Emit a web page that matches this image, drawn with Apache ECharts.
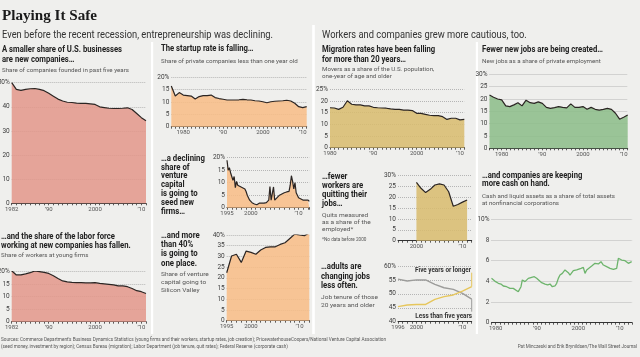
<!DOCTYPE html>
<html><head><meta charset="utf-8">
<script src="https://cdn.jsdelivr.net/npm/echarts@6/dist/echarts.min.js"></script>
<style>html,body{margin:0;padding:0;background:#efefed;}#c{width:640px;height:357px;}</style>
</head><body><div id="c"></div>
<script>
// ---------- DATA ----------
const foundedYearsStart = 1982;
const shareFoundedFiveYr = [50, 47.2, 46.8, 47.2, 47.5, 47.6, 47.2, 46.7, 45.6, 44.4, 43.2, 42.4, 41.9, 41.8, 41.5, 41.4, 41.4, 41.2, 41.0, 40.0, 39.7, 39.4, 39.3, 39.3, 39.4, 39.6, 38.9, 37.2, 35.5, 34.2];
const shareWorkersYoung = [20.4, 18.7, 18.7, 19.1, 19.6, 20.3, 20.0, 19.7, 19.3, 18.4, 17.3, 16.3, 15.9, 15.7, 15.6, 15.6, 15.5, 15.5, 15.6, 15.3, 15.1, 14.9, 14.7, 14.3, 14.3, 14.0, 13.3, 12.4, 12.0, 11.3];
const startupStart = 1977;
const startupRate = [16.5, 12.4, 13.8, 12.8, 12.6, 12.4, 11.2, 12.2, 12.6, 12.6, 12.8, 11.8, 11.4, 11.1, 10.8, 10.8, 10.8, 10.9, 11.1, 10.9, 10.8, 10.5, 10.4, 10.1, 9.7, 10.1, 10.3, 10.4, 10.5, 10.7, 10.4, 9.5, 8.1, 7.7, 8.1];
const seedStart = 1995; // quarterly
const seedShare = [19, 15, 16, 14, 13.5, 11, 12.5, 8, 10.5, 9, 9.5, 8.5, 9, 8, 8.5, 7.5, 6.5, 5, 4, 3, 2.5, 2, 1.8, 1.5, 1.5, 1.2, 1.5, 1.8, 1.5, 1.8, 2, 1.8, 2, 2, 2.5, 3, 8.5, 3, 3.5, 8.3, 3, 3.5, 4, 4.5, 5, 5, 5.5, 6, 6, 6.5, 6.3, 7, 6.5, 9, 12.8, 10.5, 7.5, 10, 6, 5, 4, 4.5, 3.5, 3.5, 3, 3.5, 3, 2.8, 3, 2.5];
const siliconStart = 1995;
const siliconValleyShare = [22.4, 30.2, 31.0, 27.2, 32.5, 31.9, 31.0, 33.0, 34.2, 34.5, 34.5, 35.6, 36.4, 38.4, 40.4, 40.0, 39.7, 41.0];
const migrationStart = 1980;
const migrationRate = [17.1, 17.0, 16.4, 17.3, 20.1, 18.6, 18.3, 18.3, 17.9, 17.9, 17.3, 17.1, 17.0, 16.9, 16.6, 16.4, 16.4, 16.1, 16.1, 15.9, 14.7, 14.7, 14.3, 13.9, 13.7, 13.7, 13.3, 12.1, 12.6, 12.6, 11.9, 12.1];
const quitStart = 2000;
const quitRate = [26.9, 24.2, 22.2, 23.7, 25.7, 26.2, 25.7, 22.6, 15.9, 16.7, 17.8, 18.8];
const tenureStart = 1996; // every two years
const tenureUnder5 = [55.3, 54.6, 55.0, 55.0, 53.4, 52.2, 51.6, 50.2, 48.1];
const tenureOver5 = [45.4, 46.0, 46.2, 46.2, 48.0, 49.0, 49.6, 51.0, 52.6];
const jobsStart = 1977;
const newJobs = [21.6, 20.7, 20.0, 19.6, 17.2, 16.9, 17.6, 18.5, 17.2, 19.5, 18.5, 18.2, 18.8, 18.2, 16.6, 16.2, 16.5, 16.9, 16.6, 16.4, 18.0, 16.6, 16.6, 16.9, 15.8, 16.6, 15.8, 15.5, 15.8, 16.2, 15.8, 14.2, 11.8, 12.6, 13.5];
const cashYears = [1979.0, 1979.44, 1980.0, 1980.65, 1981.29, 1981.85, 1982.66, 1983.47, 1984.27, 1984.68, 1985.48, 1985.89, 1986.13, 1986.45, 1986.69, 1987.1, 1987.5, 1987.9, 1988.31, 1988.71, 1989.35, 1989.92, 1990.32, 1991.13, 1991.94, 1992.58, 1993.15, 1993.71, 1994.35, 1994.76, 1995.16, 1995.56, 1996.13, 1996.77, 1997.18, 1997.58, 1997.98, 1998.39, 1998.79, 1999.19, 1999.6, 2000.0, 2000.65, 2001.21, 2001.61, 2002.02, 2002.42, 2003.23, 2004.03, 2004.84, 2005.48, 2006.05, 2006.85, 2007.66, 2008.47, 2009.27, 2009.68, 2010.08, 2010.48, 2010.89, 2011.29, 2011.69, 2012.1, 2012.5, 2012.9];
const cashShare = [4.29, 4.13, 3.97, 3.81, 3.74, 3.55, 3.48, 3.32, 3.32, 3.16, 3.0, 3.16, 3.48, 4.13, 4.29, 3.97, 4.13, 4.29, 4.19, 4.39, 4.45, 4.29, 4.13, 3.87, 3.74, 3.65, 3.74, 3.48, 3.55, 3.81, 4.29, 4.61, 4.77, 5.10, 4.94, 4.84, 4.61, 4.77, 5.03, 5.16, 5.10, 5.03, 5.26, 5.35, 4.77, 5.10, 5.26, 5.48, 5.74, 5.68, 5.90, 5.58, 5.42, 5.26, 5.16, 5.26, 6.23, 6.32, 6.06, 6.13, 6.0, 5.90, 5.74, 5.81, 5.90];

// tick labels
const tickYearsA = [1982, 1990, 2000, 2010], tickTextA = ['1982', '’90', '2000', '’10'];
const tickYearsB = [1980, 1990, 2000, 2010], tickTextB = ['1980', '’90', '2000', '’10'];
const tickYearsC = [1995, 2000, 2010], tickTextC = ['1995', '2000', '’10'];
const tickYearsE = [2000, 2010], tickTextE = ['2000', '’10'];
const tickYearsF = [1996, 2000, 2010], tickTextF = ['1996', '2000', '’10'];

// ---------- BUILD ----------
function pairs(start, step, vals) { return vals.map((v, i) => [start + i * step, v]); }
const LINE = '#2b2523';
const charts = [
  { box: [11.7, 82.7, 134.3, 120.6], x: [1982, 2011], y: [0, 50, 10], t: [tickYearsA, tickTextA], s: [{ d: pairs(foundedYearsStart, 1, shareFoundedFiveYr), fill: '#e3978a' }] },
  { box: [11.7, 271.7, 134.3, 50], x: [1982, 2011], y: [0, 20, 5], t: [tickYearsA, tickTextA], s: [{ d: pairs(foundedYearsStart, 1, shareWorkersYoung), fill: '#e3978a' }] },
  { box: [171.3, 77.3, 135.4, 49.4], x: [1977, 2011], y: [0, 20, 5], t: [tickYearsB, tickTextB], s: [{ d: pairs(startupStart, 1, startupRate), fill: '#f8bd86' }] },
  { box: [227, 157.7, 82.3, 50], x: [1995, 2012.25], y: [0, 20, 5], t: [tickYearsC, tickTextC], s: [{ d: pairs(seedStart, 0.25, seedShare), fill: '#f8bd86' }] },
  { box: [226.7, 235, 82.6, 85.7], x: [1995, 2012], y: [0, 40, 5], t: [tickYearsC, tickTextC], s: [{ d: pairs(siliconStart, 1, siliconValleyShare), fill: '#f8bd86' }] },
  { box: [330, 89.3, 134.3, 58.4], x: [1980, 2011], y: [0, 25, 5], t: [tickYearsB, tickTextB], s: [{ d: pairs(migrationStart, 1, migrationRate), fill: '#d8bb6e' }] },
  { box: [398, 175.7, 73.7, 65], x: [1996, 2012], y: [0, 30, 5], t: [tickYearsE, tickTextE], s: [{ d: pairs(quitStart, 1, quitRate), fill: '#d8bb6e' }] },
  { box: [398, 266, 73.7, 55.7], x: [1996, 2012], y: [40, 60, 5], t: [tickYearsF, tickTextF], s: [
      { d: pairs(tenureStart, 2, tenureUnder5), color: '#9c9c9a', w: 1.4 },
      { d: pairs(tenureStart, 2, tenureOver5), color: '#e6c65c', w: 1.4 },
      { d: [[2012, tenureOver5[tenureOver5.length - 1]], [2012, 57.6]], color: '#e6c65c', w: 1 },
      { d: [[2012, tenureUnder5[tenureUnder5.length - 1]], [2012, 43.6]], color: '#9c9c9a', w: 1 }
    ] },
  { box: [489.5, 74.3, 138.2, 74], x: [1977, 2011], y: [0, 30, 5], t: [tickYearsB, tickTextB], s: [{ d: pairs(jobsStart, 1, newJobs), fill: '#8cbd88' }] },
  { box: [491.5, 219.3, 140.6, 103.4], x: [1979, 2013], y: [0, 10, 2], t: [tickYearsB, tickTextB], s: [{ d: cashYears.map((y, i) => [y, cashShare[i]]), color: '#6db46c', w: 1.3 }] }
];

const grid = [], xAxis = [], yAxis = [], series = [];
charts.forEach((c, i) => {
  grid.push({ left: c.box[0], top: c.box[1], width: c.box[2], height: c.box[3], outerBoundsMode: 'none', containLabel: false });
  const ty = c.t[0], tt = c.t[1];
  xAxis.push({
    type: 'value', gridIndex: i, min: c.x[0], max: c.x[1], interval: 1,
    axisLine: { show: true, lineStyle: { color: '#333', width: 1 } },
    axisTick: { show: true, length: 2, lineStyle: { color: '#333', width: 0.8 } },
    splitLine: { show: false },
    axisLabel: { fontSize: 6, color: '#555', margin: 3, fontFamily: 'Roboto', hideOverlap: false,
      formatter: v => { const k = ty.indexOf(Math.round(v * 100) / 100); return k >= 0 ? tt[k] : ''; } }
  });
  yAxis.push({
    type: 'value', gridIndex: i, min: c.y[0], max: c.y[1], interval: c.y[2],
    axisLine: { show: false }, axisTick: { show: false },
    splitLine: { show: true, lineStyle: { color: '#9d9d9d', width: 0.7, type: [1, 1] } },
    axisLabel: { show: false }
  });
  c.s.forEach(s => {
    series.push({
      type: 'line', xAxisIndex: i, yAxisIndex: i, data: s.d, symbol: 'none', silent: true,
      lineStyle: { color: s.color || LINE, width: s.w || 1.2 },
      areaStyle: s.fill ? { color: s.fill, opacity: 0.86 } : undefined,
      z: 2
    });
  });
});

// ---------- TEXT ----------
const mctx = document.createElement('canvas').getContext('2d');
function measure(t, f) { mctx.font = f; return mctx.measureText(t).width; }
const SRC1 = 'Sources: Commerce Department\'s Business Dynamics Statistics (young firms and their workers, startup rates, job creation); PricewaterhouseCoopers/National Venture Capital Association';
const SRC2 = '(seed money, investment by region); Census Bureau (migration); Labor Department (job tenure, quit rates); Federal Reserve (corporate cash)';
const CLS = {
  head: { size: 15, weight: 'bold', family: 'Liberation Serif', color: '#1a1a1a', ref: ['Playing It Safe', 95] },
  sec: { size: 10.5, weight: 'normal', family: 'Roboto', color: '#333', ref: ['Even before the recent recession, entrepreneurship was declining.', 271] },
  ttl: { size: 8.5, weight: 'bold', family: 'Roboto', color: '#222', ref: ['A smaller share of U.S. businesses', 120] },
  sub: { size: 6.2, weight: 'normal', family: 'Roboto', color: '#555', ref: ['Share of companies founded in past five years', 127] },
  side: { size: 9, weight: 'bold', family: 'Roboto', color: '#222', ref: ['changing jobs', 49] },
  sidesub: { size: 6.2, weight: 'normal', family: 'Roboto', color: '#555', ref: ['Job tenure of those', 57] },
  src: { size: 4.6, weight: 'normal', family: 'Roboto', color: '#555', ref: [SRC1, 385] },
  ann: { size: 6.3, weight: 'bold', family: 'Roboto', color: '#333', ref: ['Five years or longer', 56] }
};
Object.values(CLS).forEach(c => {
  c.font = c.weight + ' ' + c.size + 'px "' + c.family + '"';
  c.scale = c.ref[1] / measure(c.ref[0], c.font);
});
const graphic = [];
function txt(cls, text, x, y, align) {
  const c = CLS[cls];
  graphic.push({ type: 'text', x: x, y: y, scaleX: c.scale, scaleY: 1, silent: true, z: 10,
    style: { text: text, fontSize: c.size, fontWeight: c.weight, fontFamily: c.family, fill: c.color,
      align: align || 'left', verticalAlign: 'middle', textAlign: align || 'left', textVerticalAlign: 'middle' } });
}
function block(cls, lines, x, y0, dy) { lines.forEach((l, i) => txt(cls, l, x, y0 + i * dy)); }

// dividers
[[151, 42, 2.2, 292], [312.2, 25, 2.6, 309], [475.8, 42, 2.2, 292]].forEach(r =>
  graphic.push({ type: 'rect', shape: { x: r[0], y: r[1], width: r[2], height: r[3] }, style: { fill: '#ffffff' }, silent: true, z: 0 }));

txt('head', 'Playing It Safe', 2, 16.5);
txt('sec', 'Even before the recent recession, entrepreneurship was declining.', 2, 35);
txt('sec', 'Workers and companies grew more cautious, too.', 322, 35);

block('ttl', ['A smaller share of U.S. businesses', 'are new companies…'], 2, 50, 9.5);
txt('sub', 'Share of companies founded in past five years', 2, 70);
block('ttl', ['…and the share of the labor force', 'working at new companies has fallen.'], 1, 236.5, 9);
txt('sub', 'Share of workers at young firms', 1, 255);

txt('ttl', 'The startup rate is falling…', 161, 49);
txt('sub', 'Share of private companies less than one year old', 161, 61);
block('side', ['…a declining', 'share of', 'venture', 'capital', 'is going to', 'seed new', 'firms…'], 161, 158.5, 8.85);
block('side', ['…and more', 'than 40%', 'is going to', 'one place.'], 161, 236, 9.1);
block('sidesub', ['Share of venture', 'capital going to', 'Silicon Valley'], 161, 274, 8.2);

block('ttl', ['Migration rates have been falling', 'for more than 20 years…'], 322, 50, 9.5);
block('sub', ['Movers as a share of the U.S. population,', 'one-year of age and older'], 322, 69.5, 7);
block('side', ['…fewer', 'workers are', 'quitting their', 'jobs…'], 322, 176.7, 8.9);
block('sidesub', ['Quits measured', 'as a share of the', 'employed*'], 322, 215.7, 6.8);
txt('src', '*No data before 2000', 322, 240);
block('side', ['…adults are', 'changing jobs', 'less often.'], 321, 266.7, 9.6);
block('sidesub', ['Job tenure of those', '20 years and older'], 321, 297.7, 7.3);
txt('ann', 'Five years or longer', 471, 270, 'right');
txt('ann', 'Less than five years', 472, 316, 'right');

txt('ttl', 'Fewer new jobs are being created…', 482, 50);
txt('sub', 'New jobs as a share of private employment', 482, 61);
block('ttl', ['…and companies are keeping', 'more cash on hand.'], 482, 176, 8);
block('sub', ['Cash and liquid assets as a share of total assets', 'at nonfinancial corporations'], 482, 196.7, 6.6);

txt('src', SRC1, 1, 340);
txt('src', SRC2, 1, 346.7);
txt('src', 'Pat Minczeski and Erik Brynildsen/The Wall Street Journal', 637, 347, 'right');

const chart = echarts.init(document.getElementById('c'), null, { renderer: 'canvas' });
chart.setOption({
  backgroundColor: '#efefed', animation: false,
  textStyle: { fontFamily: 'Roboto' },
  grid, xAxis, yAxis, series, graphic
});

// y tick labels, positioned through each grid's own scale
charts.forEach((c, i) => {
  for (let k = 0; c.y[0] + k * c.y[2] <= c.y[1] + 1e-9; k++) {
    const v = c.y[0] + k * c.y[2];
    const p = chart.convertToPixel({ gridIndex: i }, [c.x[0], v]);
    if (!p) continue;
    const label = (v === c.y[1] ? v + '%' : v + '');
    graphic.push({ type: 'text', x: p[0] - 2, y: p[1], silent: true, z: 12,
      style: { text: label, fontSize: 6.5, fontFamily: 'Roboto', fontWeight: 'normal', fill: '#3d3d3d',
        align: 'right', verticalAlign: 'middle', textAlign: 'right', textVerticalAlign: 'middle' } });
  }
});
chart.setOption({ graphic: graphic });
</script></body></html>
